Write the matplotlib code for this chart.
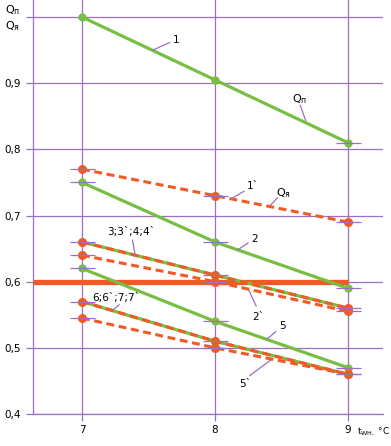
import matplotlib
matplotlib.use('Agg')
import matplotlib.pyplot as plt

# outdoor temperature, °C
t_wh = [7, 8, 9]

# green solid = Q_p, orange dashed = Q_ya
q_p_1 = [1.0, 0.905, 0.81]
q_ya_1 = [0.77, 0.73, 0.69]
q_p_2 = [0.75, 0.66, 0.59]
q_ya_2 = [0.64, 0.60, 0.555]
q_34 = [0.66, 0.61, 0.56]
q_p_5 = [0.62, 0.54, 0.47]
q_ya_5 = [0.545, 0.50, 0.46]
q_67 = [0.57, 0.51, 0.46]
q_limit = 0.6

y_ticks = [0.4, 0.5, 0.6, 0.7, 0.8, 0.9, 1.0]
y_labels = ['0,4', '0,5', '0,6', '0,7', '0,8', '0,9', '']

GREEN = '#78be43'
ORANGE = '#f15a24'
PURPLE = '#9b6fc4'

plt.rcParams['font.family'] = ['DejaVu Sans']
plt.rcParams['font.size'] = 7.5

fig = plt.figure(figsize=(3.91, 4.46), dpi=100)
ax = fig.add_axes([33 / 391, 32 / 446, 350 / 391, 414 / 446])
ax.set_xlim(6.632, 9.263)
ax.set_ylim(0.4, 1.0257)

for s in ['top', 'right']:
    ax.spines[s].set_visible(False)
for s in ['left', 'bottom']:
    ax.spines[s].set_color(PURPLE)
    ax.spines[s].set_linewidth(0.9)

ax.set_xticks(t_wh)
ax.set_yticks(y_ticks)
ax.set_yticklabels(y_labels)
ax.tick_params(colors=PURPLE, length=5, width=0.9, labelcolor='black', pad=3)
ax.tick_params(axis='y', pad=4)
ax.grid(True, color=PURPLE, linewidth=0.9, zorder=0)
ax.set_axisbelow(True)

ax.hlines(q_limit, 6.632, 9, color=ORANGE, linewidth=3.8, zorder=3)


def green(y):
    ax.plot(t_wh, y, color=GREEN, linewidth=2.3, marker='o', markersize=6,
            markeredgewidth=0, zorder=4)


def orange(y):
    ax.plot(t_wh, y, color=ORANGE, linewidth=2.2, linestyle=(0, (2.6, 1.5)),
            marker='o', markersize=6.5, markeredgewidth=0, zorder=5)


def ticks(xs, ys):
    ax.plot(xs, ys, linestyle='none', marker='_', markersize=18,
            markeredgewidth=0.9, color=PURPLE, zorder=6)


green(q_p_1)
orange(q_ya_1)
green(q_p_2)
orange(q_ya_2)
green(q_34)
orange(q_34)
green(q_p_5)
orange(q_ya_5)
green(q_67)
orange(q_67)

for ys in [q_ya_1, q_p_2, q_ya_2, q_34, q_p_5, q_ya_5, q_67]:
    ticks(t_wh, ys)
ticks([9], [q_p_1[2]])

lead = dict(arrowstyle='-', color=PURPLE, lw=0.9, shrinkA=0, shrinkB=0)


def note(text, xy, xytext, ha='left'):
    ax.annotate(text, xy=xy, xytext=xytext, ha=ha, va='bottom',
                arrowprops=lead, zorder=7)


note('1', (7.53, 0.9497), (7.68, 0.958))
ax.annotate('', xy=(8.69, 0.839), xytext=(8.64, 0.867), arrowprops=lead)
ax.text(8.58, 0.866, r'$\mathregular{Q_{п}}$', va='bottom', fontsize=8)
note('1`', (8.12, 0.725), (8.24, 0.737))
ax.annotate('', xy=(8.41, 0.714), xytext=(8.47, 0.727), arrowprops=lead)
ax.text(8.46, 0.724, r'$\mathregular{Q_{я}}$', va='bottom', fontsize=8)
note('2', (8.17, 0.648), (8.27, 0.657))
note('3;3`;4;4`', (7.40, 0.640), (7.19, 0.667))
ax.annotate('', xy=(8.25, 0.589), xytext=(8.31, 0.563), arrowprops=lead)
ax.text(8.28, 0.547, '2`', va='center')
note('5', (8.39, 0.513), (8.48, 0.525))
ax.annotate('', xy=(8.43, 0.483), xytext=(8.26, 0.458), arrowprops=lead)
ax.text(8.18, 0.445, '5`', va='center')
ax.annotate('', xy=(7.225, 0.556), xytext=(7.28, 0.565), arrowprops=lead)
ax.text(7.08, 0.575, '6;6`;7;7`', va='center')

# axis captions
fig.text(5 / 391, 1 - 10 / 446, r'$\mathregular{Q_{п}}$', va='center', fontsize=8)
fig.text(5 / 391, 1 - 26 / 446, r'$\mathregular{Q_{я}}$', va='center', fontsize=8)
fig.text(357 / 391, 1 - 432 / 446, r'$\mathregular{t_{WH,}}$ °C', va='center',
         ha='left', fontsize=6.5)

fig.savefig('out.png', dpi=100)
